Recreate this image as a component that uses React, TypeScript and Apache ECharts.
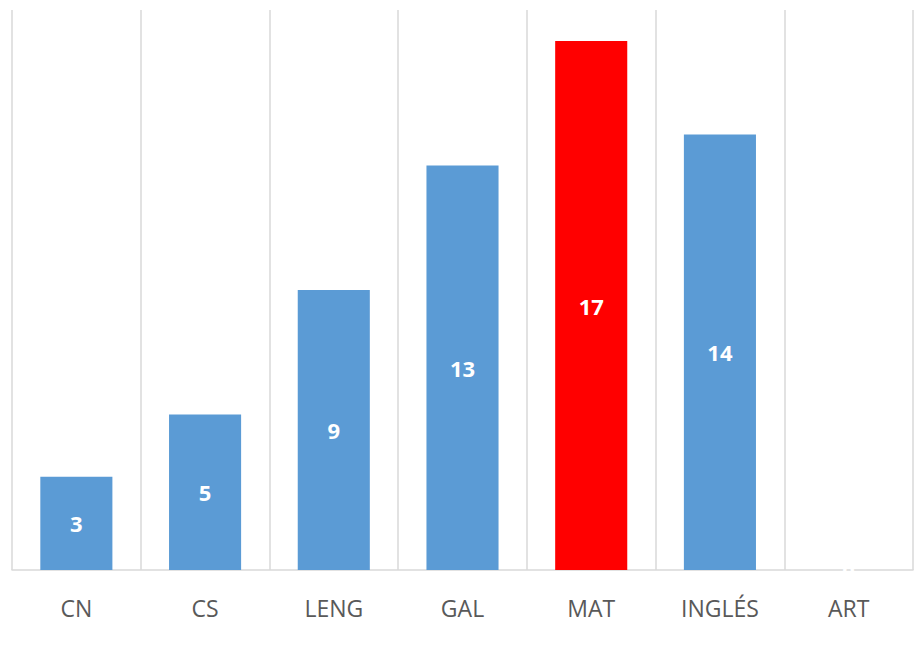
import React, { useEffect, useRef } from "react";
import * as echarts from "echarts";

const categories = ["CN", "CS", "LENG", "GAL", "MAT", "INGLÉS", "ART"];
const values = [3, 5, 9, 13, 17, 14, 0];
const highlightCategory = "MAT";
const yMax = 18;

export default function App() {
  const ref = useRef<HTMLDivElement>(null);
  useEffect(() => {
    const chart = echarts.init(ref.current!, undefined, { renderer: "svg" });
    chart.setOption({
      animation: false,
      backgroundColor: "#ffffff",
      grid: { left: 12, right: 8, top: 10, bottom: 76 },
      xAxis: {
        type: "category",
        data: categories,
        axisLine: { show: true, lineStyle: { color: "#d9d9d9", width: 1.5 } },
        axisTick: { show: false },
        axisLabel: {
          color: "#595959",
          fontSize: 23,
          fontFamily: "Open Sans",
          margin: 26,
        },
        splitLine: { show: true, lineStyle: { color: "#d9d9d9", width: 1.5 } },
      },
      yAxis: {
        type: "value",
        min: 0,
        max: yMax,
        show: false,
        splitLine: { show: false },
      },
      series: [
        {
          type: "bar",
          barWidth: "56%",
          data: values.map((v, i) => ({
            value: v,
            itemStyle: {
              color: categories[i] === highlightCategory ? "#ff0000" : "#5b9bd5",
            },
          })),
          label: {
            show: true,
            position: "inside",
            color: "#ffffff",
            fontSize: 22,
            fontWeight: "bold",
            fontFamily: "Open Sans",
          },
        },
      ],
    });
    return () => chart.dispose();
  }, []);
  return (
    <div
      ref={ref}
      style={{ position: "absolute", left: 0, top: 0, width: 921, height: 646 }}
    />
  );
}
